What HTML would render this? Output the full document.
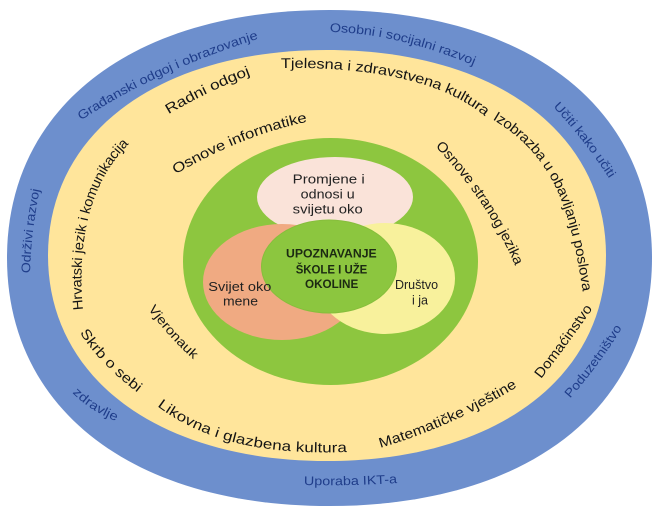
<!DOCTYPE html>
<html><head><meta charset="utf-8">
<style>
html,body{margin:0;padding:0;background:#fff;}
svg{display:block;}
.b{font-family:"Liberation Sans",sans-serif;font-size:12.5px;fill:#1f3d8a;}
.y{font-family:"Liberation Sans",sans-serif;font-size:14px;fill:#141414;}
.i{font-family:"Liberation Sans",sans-serif;font-size:12.5px;fill:#222;}
.c{font-family:"Liberation Sans",sans-serif;font-size:11.5px;font-weight:bold;fill:#1c2a12;}
</style></head>
<body>
<svg width="658" height="517" viewBox="0 0 658 517" xmlns="http://www.w3.org/2000/svg">
<defs>
<path id="b1" d="M79,117 Q152,68 257,35 l9.5,-3"/>
<path id="b2" d="M330,28 Q397,29 476,62 l9,4"/>
<path id="b3" d="M556,104 Q587.5,137.5 613,177 l5,8"/>
<path id="b4" d="M26,273 Q27,231.5 36,188 l2,-10"/>
<path id="b5" d="M75,390 Q93,408 119,418 l9,4"/>
<path id="b6" d="M304,481 Q351,482 398,479 l10,-1"/>
<path id="b7" d="M567,396 Q597,361.5 619,325 l5,-9"/>
<path id="y8" d="M78,310 C73,258 78,185 127,139 l7,-7"/>
<path id="y9" d="M166,110 Q206.5,86 249,70 l9,-3"/>
<path id="y10" d="M281,63 C351,62 440,70 490,114 l7,6"/>
<path id="y11" d="M495,115 C562,155 576,214 588,293 l1.5,10"/>
<path id="y12" d="M173,170 Q240.5,130.5 306,117 l10,-2"/>
<path id="y13" d="M439,143 Q491,197.5 519,262 l4,9"/>
<path id="y14" d="M152,306 Q171.5,333 197,356 l7,6"/>
<path id="y15" d="M84,330 Q103.5,360.5 141,389 l8,6"/>
<path id="y16" d="M160,402 C216,444 284,449 349,447 l10,0"/>
<path id="y17" d="M379,443 Q447.5,423 514,383 l8.5,-5"/>
<path id="y18" d="M537,376 Q565,340 589,305 l6,-9"/>
</defs>
<rect width="658" height="517" fill="#fff"/>
<path d="M652,258 C652,409.3 526.2,506 329.5,506 C132.8,506 7,409.3 7,258 C7,106.7 132.8,10 329.5,10 C526.2,10 652,106.7 652,258 Z" fill="#6d8fcd"/>
<path d="M606,255.5 C606,378.8 494.4,461 327,461 C159.6,461 48,378.8 48,255.5 C48,132.2 159.6,50 327,50 C494.4,50 606,132.2 606,255.5 Z" fill="#ffe59b"/>
<ellipse cx="330.5" cy="261.5" rx="147.5" ry="123.5" fill="#8dc63f"/>
<ellipse cx="335" cy="197" rx="78" ry="40" fill="#fae3d9"/>
<ellipse cx="282" cy="282" rx="79" ry="58" fill="#f0aa82"/>
<ellipse cx="385" cy="278.5" rx="70" ry="55.5" fill="#f8f19c"/>
<ellipse cx="329" cy="266.5" rx="67.5" ry="46.5" fill="#8cc63f" stroke="#86be3c" stroke-width="1"/>

<text class="b" dominant-baseline="central"><textPath href="#b1" dominant-baseline="central" textLength="197" lengthAdjust="spacingAndGlyphs">Građanski odgoj i obrazovanje</textPath></text>
<text class="b" dominant-baseline="central"><textPath href="#b2" dominant-baseline="central" textLength="150" lengthAdjust="spacingAndGlyphs">Osobni i socijalni razvoj</textPath></text>
<text class="b" dominant-baseline="central"><textPath href="#b3" dominant-baseline="central" textLength="92" lengthAdjust="spacingAndGlyphs">Učiti kako učiti</textPath></text>
<text class="b" dominant-baseline="central"><textPath href="#b4" dominant-baseline="central" textLength="85" lengthAdjust="spacingAndGlyphs">Održivi razvoj</textPath></text>
<text class="b" dominant-baseline="central"><textPath href="#b5" dominant-baseline="central" textLength="51" lengthAdjust="spacingAndGlyphs">zdravlje</textPath></text>
<text class="b" dominant-baseline="central"><textPath href="#b6" dominant-baseline="central" textLength="93" lengthAdjust="spacingAndGlyphs">Uporaba IKT-a</textPath></text>
<text class="b" dominant-baseline="central"><textPath href="#b7" dominant-baseline="central" textLength="87" lengthAdjust="spacingAndGlyphs">Poduzetništvo</textPath></text>

<text class="y" dominant-baseline="central"><textPath href="#y8" dominant-baseline="central" textLength="182" lengthAdjust="spacingAndGlyphs">Hrvatski jezik i komunikacija</textPath></text>
<text class="y" dominant-baseline="central"><textPath href="#y9" dominant-baseline="central" textLength="92" lengthAdjust="spacingAndGlyphs">Radni odgoj</textPath></text>
<text class="y" dominant-baseline="central"><textPath href="#y10" dominant-baseline="central" textLength="217" lengthAdjust="spacingAndGlyphs">Tjelesna i zdravstvena kultura</textPath></text>
<text class="y" dominant-baseline="central"><textPath href="#y11" dominant-baseline="central" textLength="207" lengthAdjust="spacingAndGlyphs">Izobrazba u obavljanju poslova</textPath></text>
<text class="y" dominant-baseline="central"><textPath href="#y12" dominant-baseline="central" textLength="144" lengthAdjust="spacingAndGlyphs">Osnove informatike</textPath></text>
<text class="y" dominant-baseline="central"><textPath href="#y13" dominant-baseline="central" textLength="146" lengthAdjust="spacingAndGlyphs">Osnove stranog jezika</textPath></text>
<text class="y" style="font-size:13px" dominant-baseline="central"><textPath href="#y14" dominant-baseline="central" textLength="67" lengthAdjust="spacingAndGlyphs">Vjeronauk</textPath></text>
<text class="y" dominant-baseline="central"><textPath href="#y15" dominant-baseline="central" textLength="82" lengthAdjust="spacingAndGlyphs">Skrb o sebi</textPath></text>
<text class="y" dominant-baseline="central"><textPath href="#y16" dominant-baseline="central" textLength="196" lengthAdjust="spacingAndGlyphs">Likovna i glazbena kultura</textPath></text>
<text class="y" dominant-baseline="central"><textPath href="#y17" dominant-baseline="central" textLength="149" lengthAdjust="spacingAndGlyphs">Matematičke vještine</textPath></text>
<text class="y" dominant-baseline="central"><textPath href="#y18" dominant-baseline="central" textLength="87" lengthAdjust="spacingAndGlyphs">Domaćinstvo</textPath></text>

<text class="i" x="292.7" y="183.5" textLength="72" lengthAdjust="spacingAndGlyphs">Promjene i</text>
<text class="i" x="300.7" y="198.5" textLength="54" lengthAdjust="spacingAndGlyphs">odnosi u</text>
<text class="i" x="292.7" y="213.5" textLength="70" lengthAdjust="spacingAndGlyphs">svijetu oko</text>
<text class="i" x="208.3" y="291" textLength="63" lengthAdjust="spacingAndGlyphs">Svijet oko</text>
<text class="i" x="223" y="305.5" textLength="35" lengthAdjust="spacingAndGlyphs">mene</text>
<text class="i" x="416.5" y="289" text-anchor="middle">Društvo</text>
<text class="i" x="420" y="304.5" text-anchor="middle">i ja</text>
<text class="c" x="286" y="257.5" textLength="90.7" lengthAdjust="spacingAndGlyphs">UPOZNAVANJE</text>
<text class="c" x="295.7" y="273.5" textLength="71.6" lengthAdjust="spacingAndGlyphs">ŠKOLE I UŽE</text>
<text class="c" x="305" y="288" textLength="53.3" lengthAdjust="spacingAndGlyphs">OKOLINE</text>
</svg>
</body></html>
